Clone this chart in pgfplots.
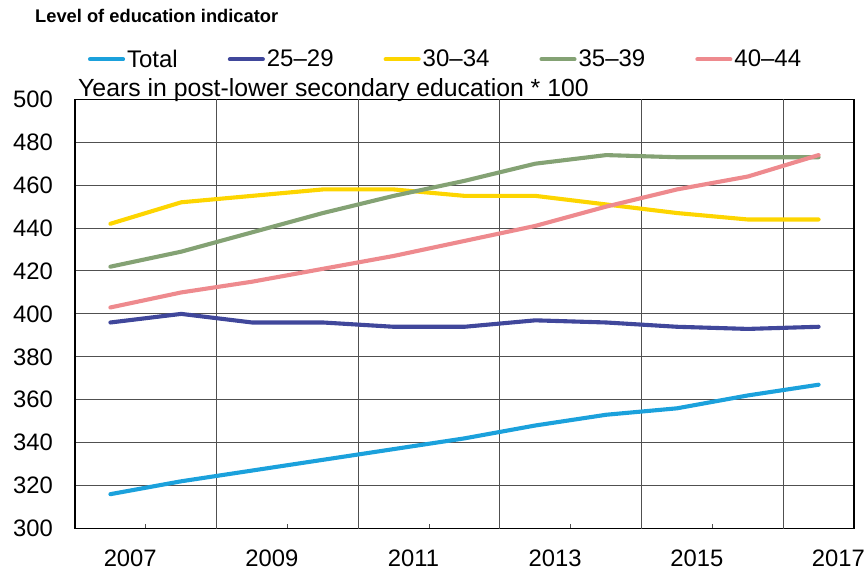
\documentclass[border=0pt]{standalone}
\usepackage{fontspec}
\setmainfont{Liberation Sans}
\usepackage{pgfplots}
\pgfplotsset{compat=1.18}
\usepackage{pgfplotstable}

\definecolor{cTotal}{HTML}{1BA1DC}
\definecolor{cA}{HTML}{40479B}
\definecolor{cB}{HTML}{FDD500}
\definecolor{cC}{HTML}{84A274}
\definecolor{cD}{HTML}{EE8A8E}
\definecolor{cGrid}{HTML}{505050}

\pgfplotstableread{
x total ya yb yc yd
0.5 316 396 442 422 403
1.5 322 400 452 429 410
2.5 327 396 455 438 415
3.5 332 396 458 447 421
4.5 337 394 458 455 427
5.5 342 394 455 462 434
6.5 348 397 455 470 441
7.5 353 396 451 474 450
8.5 356 394 447 473 458
9.5 362 393 444 473 464
10.5 367 394 444 473 474
}\datatable

\begin{document}
\begin{tikzpicture}
\useasboundingbox (-75pt,-42.5pt) rectangle (793pt,528.5pt);
\begin{axis}[
  name=ax,
  at={(0pt,0pt)}, anchor=south west,
  scale only axis,
  width=779pt, height=429.2pt,
  xmin=0, xmax=11,
  ymin=300, ymax=500,
  ytick={300,320,...,500},
  xtick={0.78,2.78,4.78,6.78,8.78,10.78},
  xticklabels={2007,2009,2011,2013,2015,2017},
  extra x ticks={2,4,6,8,10},
  extra x tick labels={},
  extra x tick style={grid=major},
  minor xtick={1,3,5,7,9},
  major tick length=0pt,
  minor tick length=5pt,
  tick align=inside,
  xtick pos=bottom,
  ytick pos=left,
  ymajorgrids=true,
  grid style={draw=cGrid, line width=1pt},
  minor tick style={draw=cGrid, line width=1pt},
  axis line style={draw=black, line width=1.4pt},
  /pgf/number format/assume math mode=true,
  tick label style={font=\fontsize{23.8pt}{26pt}\selectfont, inner sep=0pt},
  xticklabel style={anchor=base, yshift=-38pt},
  yticklabel style={anchor=east, xshift=-22pt},
  legend columns=5,
  legend style={
    at={(axis description cs:0,1)}, anchor=west,
    xshift=13pt, yshift=40pt,
    draw=none, fill=none, inner sep=0pt, outer sep=0pt,
    font=\fontsize{24pt}{26pt}\selectfont,
    nodes={inner sep=0pt},
    /tikz/every odd column/.append style={column sep=2pt},
    /tikz/every even column/.append style={column sep=50pt},
  },
  legend image code/.code={\draw[#1] (0pt,0pt) -- (33pt,0pt);},
  every axis plot/.append style={line width=4.1pt, line join=round, line cap=round},
]
\addplot[color=cTotal] table[x=x, y=total] {\datatable};
\addlegendentry{Total}
\addplot[color=cA] table[x=x, y=ya] {\datatable};
\addlegendentry{25–29}
\addplot[color=cB] table[x=x, y=yb] {\datatable};
\addlegendentry{30–34}
\addplot[color=cC] table[x=x, y=yc] {\datatable};
\addlegendentry{35–39}
\addplot[color=cD] table[x=x, y=yd] {\datatable};
\addlegendentry{40–44}
\end{axis}
\node[anchor=base west, inner sep=0pt, font=\fontsize{24.8pt}{27pt}\selectfont]
  at ([xshift=3pt,yshift=3pt]ax.north west) {Years in post-lower secondary education * 100};
\node[anchor=base west, inner sep=0pt, font=\fontsize{18.3pt}{20pt}\selectfont\bfseries]
  at ([xshift=-40pt,yshift=77pt]ax.north west) {Level of education indicator};
\end{tikzpicture}
\end{document}
